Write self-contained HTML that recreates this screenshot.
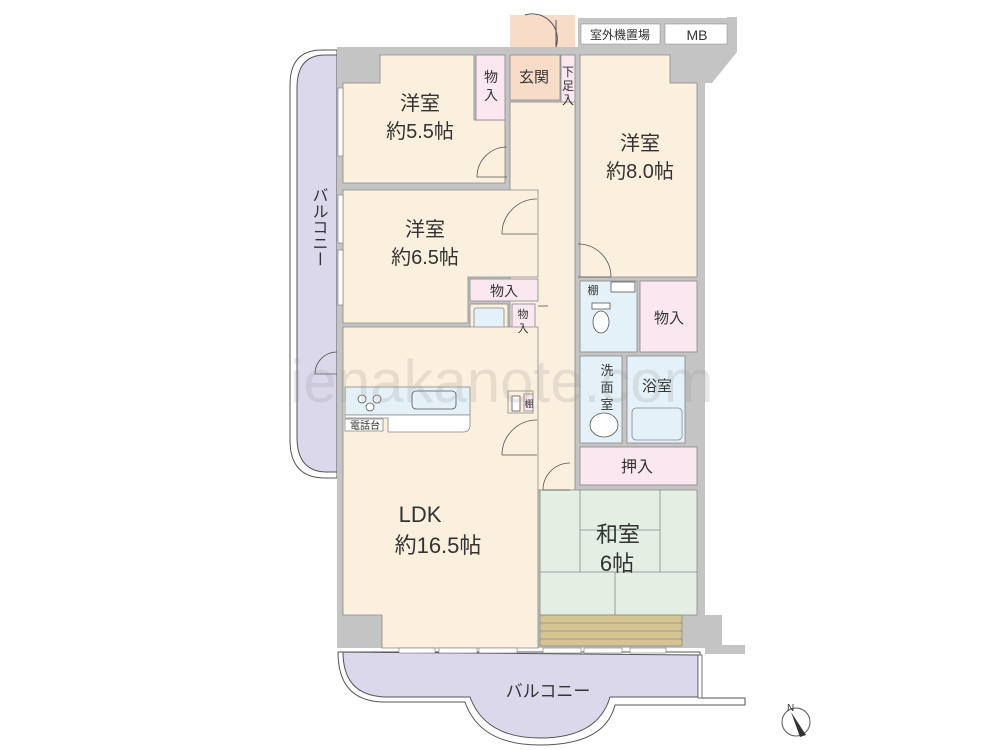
<!DOCTYPE html>
<html><head><meta charset="utf-8"><style>
html,body{margin:0;padding:0;background:#fff;}
svg{display:block;}
text{font-family:"Liberation Sans","Noto Sans CJK JP",sans-serif;fill:#333;}
</style></head><body>
<svg width="1000" height="750" viewBox="0 0 1000 750" xmlns="http://www.w3.org/2000/svg">
<!-- left balcony -->
<path d="M337,50 L322,50 Q290,50 290,85 L290,440 Q290,478 325,478 L337,478 Z" fill="#fff" stroke="#555" stroke-width="1"/>
<path d="M337,55 L325,55 Q297,55 297,88 L297,437 Q297,472 327,472 L337,472 Z" fill="#dcd8ec" stroke="#555" stroke-width="1"/>
<!-- bottom balcony -->
<path d="M338,652 Q338,702 385,702 L465,702 Q480,745 540,745 Q605,745 615,705 L745,705 L745,698 L700,698 L700,652 Z" fill="#fff" stroke="#555" stroke-width="1"/>
<path d="M343,652 Q343,697 388,697 L470,697 Q485,738 540,738 Q598,738 610,697 L698,697 L698,655 Z" fill="#dcd8ec" stroke="#555" stroke-width="1"/>
<rect x="698" y="655" width="4" height="43" fill="#fff" stroke="#555" stroke-width="0.8"/>
<!-- outer walls -->
<rect x="337" y="47" width="368" height="601" fill="#c4c4c4"/>
<rect x="682" y="615" width="40" height="33" fill="#c4c4c4"/>
<rect x="705" y="645" width="40" height="9" fill="#c4c4c4"/>
<polygon points="727,17 737,17 737,52 712,83 705,83 705,47 727,47" fill="#c4c4c4"/>
<!-- top outside -->
<rect x="510" y="15" width="65" height="32" fill="#f8dcc8"/>
<rect x="578" y="18" width="159" height="32" fill="#c4c4c4"/>
<rect x="581" y="24" width="79" height="20" fill="#fff" stroke="#888" stroke-width="0.5"/>
<rect x="665" y="24" width="62" height="20" fill="#fff" stroke="#888" stroke-width="0.5"/>
<text x="620" y="39" font-size="12" text-anchor="middle">室外機置場</text>
<text x="697" y="40" font-size="14" text-anchor="middle">MB</text>
<path d="M525,15 A25,25 0 0 1 556,47" fill="none" stroke="#555" stroke-width="1"/>
<line x1="556" y1="20" x2="556" y2="47" stroke="#555"/>
<!-- rooms -->
<g stroke="#888" stroke-width="0.8">
<path d="M380,55 L474,55 L474,120 L505,120 L505,183 L343,183 L343,83 L380,83 Z" fill="#fbf0de"/>
<rect x="476" y="55" width="29" height="65" fill="#fae7ef"/>
<rect x="510" y="55" width="50" height="45" fill="#f8dcc8"/>
<rect x="561" y="55" width="14" height="58" fill="#fae7ef"/>
<rect x="510" y="102" width="65" height="388" fill="#fbf0de"/>
<path d="M580,55 L670,55 L670,83 L697,83 L697,277 L580,277 Z" fill="#fbf0de"/>
<path d="M343,190 L538,190 L538,277 L468,277 L468,323 L343,323 Z" fill="#fbf0de"/>
<rect x="470" y="279" width="68" height="22" fill="#fae7ef"/>
<rect x="470" y="304" width="38" height="31" fill="#fbf0de"/>
<rect x="474" y="308" width="30" height="23" fill="#e4f1f8" rx="2"/>
<rect x="512" y="304" width="23" height="32" fill="#fae7ef"/>
<path d="M343,327 L538,327 L538,648 L382,648 L382,615 L343,615 Z" fill="#fbf0de"/>
<rect x="345" y="387" width="125" height="28" fill="#e4f1f8"/>
<path d="M345,415 L470,415 L470,425 Q470,432 463,432 L388,432 L388,418 L345,418 Z" fill="#fff"/>
<rect x="345" y="419" width="38" height="12" fill="#fff"/>
<rect x="508" y="391" width="25" height="22" fill="#fbf0de"/>
<rect x="524" y="394" width="9" height="17" fill="#fae7ef"/>
<rect x="580" y="281" width="57" height="71" fill="#e4f1f8"/>
<rect x="640" y="281" width="57" height="71" fill="#fae7ef"/>
<rect x="580" y="356" width="42" height="87" fill="#e4f1f8"/>
<rect x="627" y="356" width="58" height="87" fill="#e4f1f8"/>
<rect x="632" y="408" width="50" height="32" fill="#e4f1f8" rx="4"/>
<rect x="580" y="447" width="117" height="38" fill="#fae7ef"/>
<rect x="540" y="490" width="157" height="125" fill="#e2efe2"/>
<line x1="580" y1="490" x2="580" y2="572"/><line x1="660" y1="490" x2="660" y2="572"/>
<line x1="580" y1="530" x2="660" y2="530"/><line x1="540" y1="572" x2="697" y2="572"/>
<line x1="615" y1="572" x2="615" y2="615"/>
<rect x="540" y="615" width="142" height="31" fill="#d8c493"/>
<line x1="540" y1="623" x2="682" y2="623"/><line x1="540" y1="631" x2="682" y2="631"/><line x1="540" y1="639" x2="682" y2="639"/>
</g>
<!-- fixtures -->
<g fill="#fff" stroke="#555" stroke-width="0.8">
<ellipse cx="601" cy="322" rx="8" ry="11"/><rect x="592" y="303" width="18" height="6"/>
<ellipse cx="604" cy="425" rx="14" ry="12"/>
<circle cx="362" cy="399" r="4"/><circle cx="377" cy="399" r="4"/><circle cx="370" cy="407" r="4"/>
<rect x="412" y="391" width="44" height="18" rx="4" fill="#e4f1f8"/>
<rect x="512" y="396" width="8" height="15"/>
<rect x="611" y="282" width="24" height="10"/>
</g>
<!-- windows -->
<g fill="#fff" stroke="#777" stroke-width="0.6">
<rect x="399" y="648" width="36" height="5"/><rect x="439" y="648" width="38" height="5"/><rect x="479" y="648" width="38" height="5"/>
<rect x="543" y="648" width="38" height="5"/><rect x="584" y="648" width="38" height="5"/><rect x="630" y="648" width="36" height="5"/>
<rect x="338" y="88" width="5" height="68"/><rect x="338" y="195" width="5" height="48"/><rect x="338" y="250" width="5" height="55"/>
</g>
<!-- doors -->
<g fill="none" stroke="#555" stroke-width="0.8">
<path d="M507,147 A30,30 0 0 0 477,177 L507,177"/>
<path d="M537,199 A35,35 0 0 0 502,234 M537,234 L502,234"/>
<path d="M578,244 A33,33 0 0 1 611,277 M578,277 L611,277"/>
<path d="M538,306 L548,306"/>
<path d="M537,420 A35,35 0 0 0 502,455 M537,455 L502,455"/>
<path d="M570,463 A27,27 0 0 0 543,490 L570,490"/>
<path d="M337,352 A22,22 0 0 0 315,374 L337,374"/>
</g>
<!-- labels -->
<g text-anchor="middle">
<text x="420" y="110" font-size="20">洋室</text><text x="420" y="138" font-size="20">約5.5帖</text>
<text x="640" y="150" font-size="20">洋室</text><text x="640" y="178" font-size="20">約8.0帖</text>
<text x="425" y="236" font-size="20">洋室</text><text x="425" y="264" font-size="20">約6.5帖</text>
<text x="420" y="522" font-size="22">LDK</text><text x="438" y="553" font-size="22">約16.5帖</text>
<text x="618" y="542" font-size="22">和室</text><text x="617" y="571" font-size="22">6帖</text>
<text x="534" y="82" font-size="15">玄関</text>
<text x="491" y="82" font-size="14">物</text><text x="491" y="100" font-size="14">入</text>
<text x="568" y="76" font-size="12">下</text><text x="568" y="90" font-size="12">足</text><text x="568" y="104" font-size="12">入</text>
<text x="504" y="296" font-size="14">物入</text>
<text x="523" y="318" font-size="11">物</text><text x="523" y="332" font-size="11">入</text>
<text x="669" y="323" font-size="15">物入</text>
<text x="593" y="294" font-size="11">棚</text>
<text x="529" y="407" font-size="9">棚</text>
<text x="365" y="429" font-size="10">電話台</text>
<text x="607" y="375" font-size="13">洗</text><text x="607" y="392" font-size="13">面</text><text x="607" y="409" font-size="13">室</text>
<text x="657" y="391" font-size="15">浴室</text>
<text x="637" y="472" font-size="16">押入</text>
<text x="548" y="697" font-size="17">バルコニー</text>
<text x="318" y="227" font-size="16" writing-mode="tb">バルコニー</text>
</g>
<text x="290" y="402" font-size="60" opacity="0.22" style="fill:#999">ienakanote.com</text>
<!-- compass -->
<circle cx="796" cy="722" r="14" fill="#fff" stroke="#555"/>
<polygon points="791,712 806,735 800,737" fill="#333"/>
<text x="787" y="711" font-size="10">N</text>
</svg>
</body></html>
